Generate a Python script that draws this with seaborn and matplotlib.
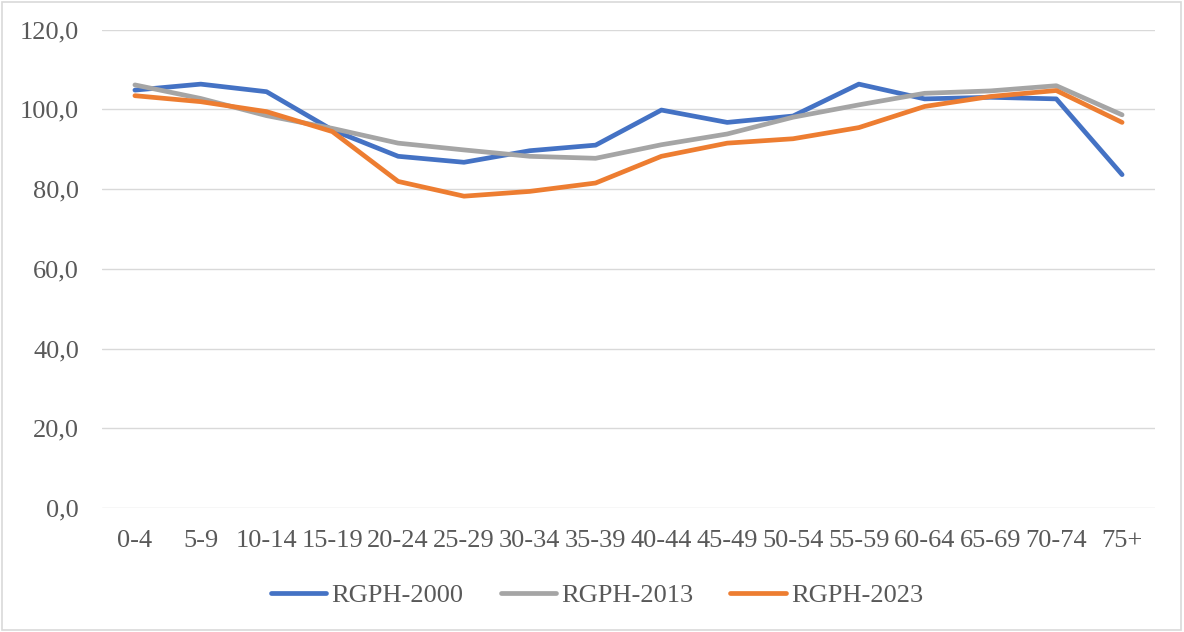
import pandas as pd
import matplotlib.pyplot as plt
import matplotlib.ticker as mtick
from matplotlib.patches import Rectangle
import seaborn as sns

# Data
age_groups = ["0-4", "5-9", "10-14", "15-19", "20-24", "25-29", "30-34", "35-39",
              "40-44", "45-49", "50-54", "55-59", "60-64", "65-69", "70-74", "75+"]
rgph_2000 = [104.8, 106.3, 104.4, 94.8, 88.2, 86.7, 89.6, 91.0,
             99.8, 96.7, 98.3, 106.3, 102.6, 103.0, 102.6, 83.6]
rgph_2013 = [106.1, 102.7, 98.4, 95.2, 91.5, 89.8, 88.2, 87.7,
             91.1, 93.8, 98.0, 101.1, 104.0, 104.6, 105.9, 98.6]
rgph_2023 = [103.4, 101.9, 99.4, 94.4, 81.9, 78.2, 79.4, 81.5,
             88.2, 91.5, 92.6, 95.4, 100.7, 103.2, 104.7, 96.7]

series_names = ["RGPH-2000", "RGPH-2013", "RGPH-2023"]
palette = {"RGPH-2000": "#4472C4", "RGPH-2013": "#A5A5A5", "RGPH-2023": "#ED7D31"}

df = pd.DataFrame({"Age": age_groups,
                   "RGPH-2000": rgph_2000,
                   "RGPH-2013": rgph_2013,
                   "RGPH-2023": rgph_2023})
df_long = df.melt(id_vars="Age", var_name="Serie", value_name="Valeur")

sns.set_style("white")
plt.rcParams['font.family'] = ['Liberation Serif', 'DejaVu Serif']

fig = plt.figure(figsize=(11.84, 6.32), dpi=100)
ax = fig.add_axes([102 / 1184, 1 - 508 / 632, (1155 - 102) / 1184, (508 - 29.5) / 632])

sns.lineplot(
    data=df_long,
    x="Age",
    y="Valeur",
    hue="Serie",
    hue_order=series_names,
    palette=palette,
    linewidth=3.4,
    sort=False,
    ax=ax,
)
for line in ax.lines:
    line.set_solid_capstyle("round")
    line.set_solid_joinstyle("round")

# Axes formatting
ax.set_xlim(-0.5, len(age_groups) - 0.5)
ax.set_ylim(0, 120)
ax.set_yticks(range(0, 121, 20))
ax.yaxis.set_major_formatter(mtick.FuncFormatter(lambda v, p: f"{v:.1f}".replace(".", ",")))
ax.set_xlabel("")
ax.set_ylabel("")
ax.grid(axis="y", color="#D9D9D9", linewidth=1.0)
ax.set_axisbelow(True)
for s in ax.spines.values():
    s.set_visible(False)
ax.tick_params(axis="both", length=0, labelsize=19, labelcolor="#595959")
ax.tick_params(axis="x", pad=16)
ax.tick_params(axis="y", pad=16.5)

# Legend
handles, labels = ax.get_legend_handles_labels()
for h in handles:
    h.set_solid_capstyle("round")
ax.legend(handles, labels, loc="center", bbox_to_anchor=(597 / 1184, 1 - 595 / 632),
          bbox_transform=fig.transFigure, ncol=3, frameon=False, fontsize=19,
          labelcolor="#595959", handlelength=2.1, handletextpad=0.2, columnspacing=1.4,
          borderpad=0, borderaxespad=0)

# Chart border
fig.patches.append(Rectangle((2 / 1184, 2 / 632), 1 - 5 / 1184, 1 - 4 / 632,
                             transform=fig.transFigure, fill=False,
                             edgecolor="#D9D9D9", linewidth=1.2))

fig.savefig("out.png", dpi=100)
plt.close(fig)
